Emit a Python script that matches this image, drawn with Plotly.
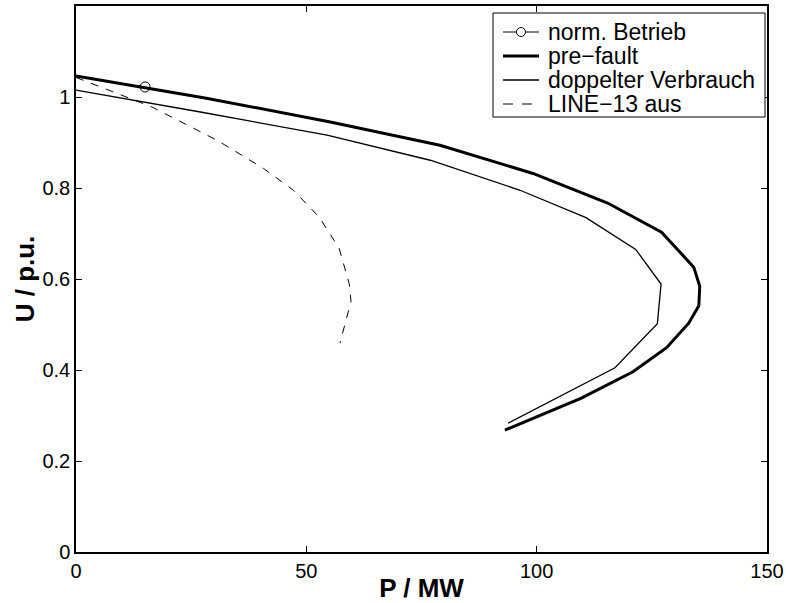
import plotly.graph_objects as go

# Power-voltage (P-U) nose curves
p_prefault = [0, 28, 55.2, 79, 99.2, 115.4, 127.1, 134.1, 135.4, 135.2, 133, 128.2, 120.9, 109.7, 93.1]
u_prefault = [1.046, 0.998, 0.945, 0.894, 0.832, 0.767, 0.703, 0.626, 0.584, 0.541, 0.503, 0.449, 0.396, 0.338, 0.268]

p_double_load = [0, 27, 54.5, 76.9, 96.4, 110.7, 121.5, 127, 126.2, 117, 93.8]
u_double_load = [1.015, 0.967, 0.916, 0.861, 0.795, 0.735, 0.665, 0.589, 0.502, 0.405, 0.283]

p_line13_out = [0, 16.5, 30.6, 40.7, 47.2, 52.8, 57.1, 59.3, 59.7, 57.3]
u_line13_out = [1.043, 0.978, 0.905, 0.843, 0.795, 0.736, 0.668, 0.590, 0.551, 0.459]

# Normal operating point
p_normal = [15]
u_normal = [1.022]

x_ticks = [0, 50, 100, 150]
y_ticks = [0, 0.2, 0.4, 0.6, 0.8, 1]
y_tick_text = ["0", "0.2", "0.4", "0.6", "0.8", "1"]

legend_labels = ["norm. Betrieb", "pre\u2212fault", "doppelter Verbrauch", "LINE\u221213 aus"]

FONT = "Liberation Sans, Arial, Helvetica, sans-serif"
W, H = 786, 603
ML, MR, MT, MB = 76, 19, 6, 51
PW, PH = W - ML - MR, H - MT - MB


def px_x(px):
    """Pixel column -> paper x."""
    return (px - ML) / PW


def px_y(py):
    """Pixel row -> paper y."""
    return (H - MB - py) / PH


fig = go.Figure()

fig.add_trace(go.Scatter(
    x=p_normal, y=u_normal, name=legend_labels[0], mode="markers",
    marker=dict(symbol="circle-open", size=10, color="black", line=dict(width=1, color="black")),
))
fig.add_trace(go.Scatter(
    x=p_prefault, y=u_prefault, name=legend_labels[1], mode="lines",
    line=dict(color="black", width=3),
))
fig.add_trace(go.Scatter(
    x=p_double_load, y=u_double_load, name=legend_labels[2], mode="lines",
    line=dict(color="black", width=1.3),
))
fig.add_trace(go.Scatter(
    x=p_line13_out, y=u_line13_out, name=legend_labels[3], mode="lines",
    line=dict(color="black", width=1, dash="8px,8px"),
))

axis_common = dict(
    showline=True, linecolor="black", linewidth=1.5, mirror="allticks",
    ticks="inside", ticklen=6, tickwidth=1, tickcolor="black",
    showgrid=False, zeroline=False,
    tickfont=dict(family=FONT, size=20, color="black"),
)

fig.update_xaxes(
    range=[0, 150], tickvals=x_ticks,
    title=dict(text="<b>P / MW</b>", font=dict(family=FONT, size=26, color="black"), standoff=0),
    **axis_common,
)
fig.update_yaxes(
    range=[0, 1.2], tickvals=y_ticks, ticktext=y_tick_text,
    title=dict(text="<b>U / p.u.</b>", font=dict(family=FONT, size=26, color="black"), standoff=0),
    **axis_common,
)

# Compact legend box in the upper right corner
box_l, box_r, box_t, box_b = 493, 765, 13, 117
row_y = [32, 56, 80, 104]
sample_l, sample_r = 503, 539
text_l = 546

shapes = [dict(
    type="rect", xref="paper", yref="paper",
    x0=px_x(box_l), x1=px_x(box_r), y0=px_y(box_b), y1=px_y(box_t),
    line=dict(color="black", width=1), fillcolor="white", layer="above",
)]
sample_styles = [
    dict(color="black", width=1),
    dict(color="black", width=3),
    dict(color="black", width=1.3),
    dict(color="black", width=1, dash="10px,9px"),
]
for ry, style in zip(row_y, sample_styles):
    shapes.append(dict(
        type="line", xref="paper", yref="paper",
        x0=px_x(sample_l), x1=px_x(sample_r), y0=px_y(ry), y1=px_y(ry),
        line=style, layer="above",
    ))
# circle marker over the first sample line
cx = (sample_l + sample_r) / 2
shapes.append(dict(
    type="circle", xref="paper", yref="paper",
    xsizemode="pixel", ysizemode="pixel",
    xanchor=px_x(cx), yanchor=px_y(row_y[0]),
    x0=-4.5, x1=4.5, y0=-4.5, y1=4.5,
    line=dict(color="black", width=1), fillcolor="white", layer="above",
))

annotations = [
    dict(
        text=label, xref="paper", yref="paper",
        x=px_x(text_l), y=px_y(ry), xanchor="left", yanchor="middle",
        showarrow=False, font=dict(family=FONT, size=23, color="black"),
    )
    for label, ry in zip(legend_labels, row_y)
]

fig.update_layout(
    width=W, height=H,
    margin=dict(l=ML, r=MR, t=MT, b=MB, autoexpand=False),
    paper_bgcolor="white", plot_bgcolor="white",
    showlegend=False,
    shapes=shapes,
    annotations=annotations,
)

fig.write_html("out.html")
